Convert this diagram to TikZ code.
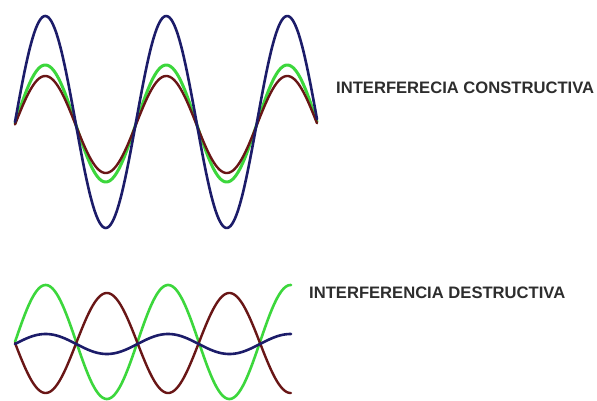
\documentclass[tikz,border=0pt]{standalone}
\usepackage{fontspec}
\setmainfont{Liberation Sans}
\definecolor{wblue}{RGB}{28,28,105}
\definecolor{wgreen}{RGB}{60,215,60}
\definecolor{wred}{RGB}{105,22,22}
\definecolor{wtext}{RGB}{45,45,45}
\begin{document}
\begin{tikzpicture}[x=1pt,y=-1pt,
  wave/.style={line width=2.6pt,line cap=round,line join=round},
  label/.style={anchor=west,inner sep=0pt,text=wtext,font=\fontsize{16.6}{18}\selectfont\bfseries}]
\useasboundingbox (0,0) rectangle (597,401);
\fill[white] (0,0) rectangle (597,401);
% constructive
\draw[wave,wgreen,line width=3pt] plot[domain=15:317,samples=200,smooth] (\x,{123.5-58.5*sin((\x-15)/121*360)});
\draw[wave,wred,line width=2.4pt] plot[domain=15:317,samples=200,smooth] (\x,{124.5-48.5*sin((\x-15)/121*360)});
\draw[wave,wblue] plot[domain=15:317,samples=200,smooth] (\x,{122-106*sin((\x-15)/121*360)});
% destructive
\draw[wave,wgreen] plot[domain=15:291,samples=200,smooth] (\x,{342-57*sin((\x-15)/122.5*360)});
\draw[wave,wred,line width=2.4pt] plot[domain=15:291,samples=200,smooth] (\x,{343+50*sin((\x-15)/122.5*360)});
\draw[wave,wblue] plot[domain=15:291,samples=200,smooth] (\x,{344-10*sin((\x-15)/122.5*360)});
\node[label] (tc) at (336,88) {INTERFERECIA CONSTRUCTIVA};
\node[label] (td) at (309,293) {INTERFERENCIA DESTRUCTIVA};
\end{tikzpicture}
\end{document}
